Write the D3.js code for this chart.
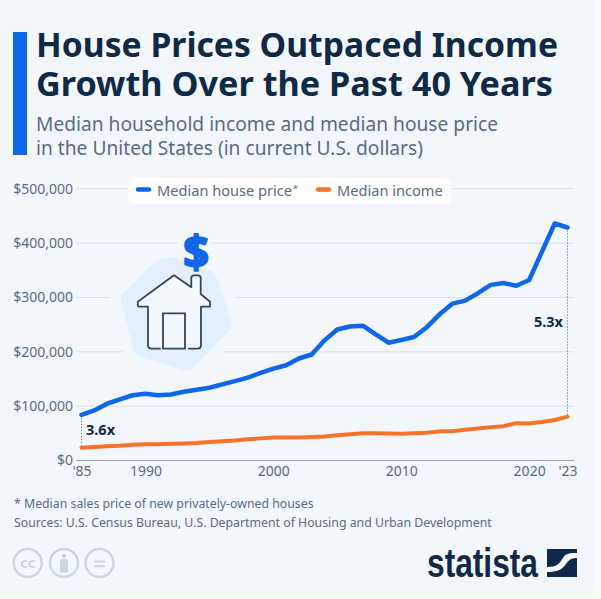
<!DOCTYPE html>
<html>
<head>
<meta charset="utf-8">
<script src="https://cdnjs.cloudflare.com/ajax/libs/d3/7.8.5/d3.min.js"></script>
<style>
  html, body { margin: 0; padding: 0; background: #f8fdf3; }
  svg { display: block; font-family: "Noto Sans", "Open Sans", sans-serif; }
  .axis path, .axis line { shape-rendering: crispEdges; }
</style>
</head>
<body>
<div id="chart"></div>
<script>
var years = [1985, 1986, 1987, 1988, 1989, 1990, 1991, 1992, 1993, 1994, 1995, 1996, 1997,
  1998, 1999, 2000, 2001, 2002, 2003, 2004, 2005, 2006, 2007, 2008, 2009, 2010, 2011, 2012,
  2013, 2014, 2015, 2016, 2017, 2018, 2019, 2020, 2021, 2022, 2023];
var housePrice = [84000, 92000, 104500, 112500, 120000, 122900, 120000, 121500, 126500, 130000,
  133900, 140000, 146000, 152500, 161000, 169000, 175200, 187600, 195000, 221000, 240900,
  246500, 247900, 232100, 216700, 221800, 227200, 245200, 268900, 288500, 294200, 307800,
  323100, 326400, 321500, 332000, 384000, 436000, 428600];
var income = [23600, 24900, 26100, 27200, 28900, 29900, 30100, 30600, 31200, 32300, 34100, 35500,
  37000, 38900, 40700, 42100, 42200, 42400, 43300, 44300, 46300, 48200, 50200, 50300, 49800,
  49300, 50100, 51000, 53600, 53700, 56500, 59000, 61400, 63200, 68700, 68000, 70800, 74600, 80600];
var yTicks = [0, 100000, 200000, 300000, 400000, 500000];
var xTicks = [1985, 1990, 2000, 2010, 2020, 2023];
var xTickLabels = ["'85", "1990", "2000", "2010", "2020", "'23"];

var bg = '#f3f7fc', navy = '#0f2a47', grey = '#5a6b7e', blue = '#0f66e8', orange = '#f8722a';

var svg = d3.select('#chart').append('svg').attr('width', 601).attr('height', 599);

svg.append('rect').attr('width', 595).attr('height', 595).attr('fill', bg);

// title block
svg.append('rect').attr('x', 13).attr('y', 32).attr('width', 14).attr('height', 123).attr('fill', blue);
[['House Prices Outpaced Income', 57, 522, 33.7], ['Growth Over the Past 40 Years', 96, 517, 34.2]].forEach(function (t) {
  svg.append('text').attr('x', 36).attr('y', t[1]).attr('fill', navy)
    .attr('textLength', t[2]).attr('lengthAdjust', 'spacingAndGlyphs')
    .style('font-size', t[3] + 'px').style('font-weight', 700).text(t[0]);
});
[['Median household income and median house price', 131], ['in the United States (in current U.S. dollars)', 155]].forEach(function (t) {
  svg.append('text').attr('x', 36).attr('y', t[1]).attr('fill', grey)
    .style('font-size', '19.2px').text(t[0]);
});

var x = d3.scaleLinear().domain([1985, 2023]).range([81.5, 567.5]);
var y = d3.scaleLinear().domain([0, 500000]).range([460.5, 188.7]);

// gridlines
var grid = svg.append('g');
yTicks.slice(1).forEach(function (v) {
  grid.append('line').attr('x1', 76).attr('x2', 574).attr('y1', y(v)).attr('y2', y(v))
    .attr('stroke', '#d9e0e7').attr('stroke-width', 1);
});

// y axis labels
var yAxis = d3.axisLeft(y).tickValues(yTicks).tickSize(0).tickPadding(0)
  .tickFormat(function (d) { return '$' + d3.format(',')(d); });
var yG = svg.append('g').attr('class', 'axis').attr('transform', 'translate(73,0)').call(yAxis);
yG.select('.domain').remove();
yG.selectAll('text').attr('fill', grey).style('font-size', '14px').style('font-family', '"Noto Sans", sans-serif');

// x axis
var xAxis = d3.axisBottom(x).tickValues(xTicks).tickSize(0).tickPadding(6)
  .tickFormat(function (d, i) { return xTickLabels[i]; });
var xG = svg.append('g').attr('class', 'axis').attr('transform', 'translate(0,' + y(0) + ')').call(xAxis);
xG.select('.domain').remove();
xG.selectAll('text').attr('fill', grey).style('font-size', '14px').style('font-family', '"Noto Sans", sans-serif');
svg.append('line').attr('x1', 76).attr('x2', 574).attr('y1', y(0)).attr('y2', y(0))
  .attr('stroke', '#9aa6b2').attr('stroke-width', 1);

// house icon, with a halo that breaks the gridlines
var blob = 'M163,258 Q170,256 178,259 L209,270 Q215,272 217,278 L231,320 Q233,326 229,331 L193,368 Q188,372 182,370 L140,356 Q134,354 133,348 L121,303 Q120,297 124,293 L155,262 Q159,259 163,258 Z';
var houseOutline = 'M160,348.7 H151.5 Q148,348.7 148,345 V306.7 H139.5 Q137.8,306.7 137.8,305 V301.7 L174,275.3 L191.3,287.3 V278 Q191.3,275.3 194,275.3 H198 Q200.7,275.3 200.7,278 V294 L210,301.7 V306.7 H201 V345 Q201,348.7 197.5,348.7 H189';
svg.append('path').attr('d', blob).attr('fill', bg).attr('stroke', bg).attr('stroke-width', 22).attr('stroke-linejoin', 'round');
svg.append('text').attr('x', 196).attr('y', 268).attr('text-anchor', 'middle').attr('fill', bg)
  .attr('stroke', bg).attr('stroke-width', 14).style('font-size', '45px').style('font-weight', 700).text('$');
svg.append('path').attr('d', blob).attr('fill', '#e4effc');
svg.append('path').attr('d', houseOutline + ' L185,348.7 H163 L160,348.7 Z').attr('fill', '#f3f8fd');
svg.append('text').attr('x', 196).attr('y', 268).attr('text-anchor', 'middle').attr('fill', blue)
  .attr('stroke', blue).attr('stroke-width', 2.2).attr('stroke-linejoin', 'round').style('font-size', '45px').style('font-weight', 700).text('$');
svg.append('path')
  .attr('d', houseOutline)
  .attr('fill', 'none').attr('stroke', '#34465a').attr('stroke-width', 1.8).attr('stroke-linejoin', 'round').attr('stroke-linecap', 'round');
svg.append('path').attr('d', 'M163,348.7 V313.3 H185 V348.7 Z')
  .attr('fill', 'none').attr('stroke', '#34465a').attr('stroke-width', 1.8);

// dotted connectors
function connector(i) {
  svg.append('line').attr('x1', x(years[i])).attr('x2', x(years[i]))
    .attr('y1', y(housePrice[i])).attr('y2', y(income[i]))
    .attr('stroke', '#4a5a6c').attr('stroke-width', 1).attr('stroke-dasharray', '1 2');
}
connector(0);
connector(years.length - 1);

// lines
function drawLine(values, color, w) {
  var line = d3.line().x(function (d, i) { return x(years[i]); }).y(function (d) { return y(d); });
  svg.append('path').datum(values).attr('fill', 'none').attr('stroke', color)
    .attr('stroke-width', w).attr('stroke-linejoin', 'round').attr('stroke-linecap', 'round').attr('d', line);
}
drawLine(income, orange, 4);
drawLine(housePrice, blue, 4.5);

svg.append('text').attr('x', 86).attr('y', 435).attr('fill', navy).style('font-size', '14.5px').style('font-weight', 700).text('3.6x');
svg.append('text').attr('x', 563).attr('y', 327).attr('text-anchor', 'end').attr('fill', navy).style('font-size', '14.5px').style('font-weight', 700).text('5.3x');

// legend
svg.append('rect').attr('x', 128).attr('y', 178).attr('width', 323).attr('height', 26).attr('rx', 6).attr('fill', '#fff');
svg.append('line').attr('x1', 138).attr('x2', 149).attr('y1', 189.5).attr('y2', 189.5).attr('stroke', blue).attr('stroke-width', 4.5).attr('stroke-linecap', 'round');
svg.append('text').attr('x', 157).attr('y', 196).attr('fill', grey).style('font-size', '14.6px').text('Median house price');
svg.append('text').attr('x', 293).attr('y', 192).attr('fill', grey).style('font-size', '9px').text('*');
svg.append('line').attr('x1', 318).attr('x2', 329).attr('y1', 189.5).attr('y2', 189.5).attr('stroke', orange).attr('stroke-width', 4.5).attr('stroke-linecap', 'round');
svg.append('text').attr('x', 337).attr('y', 196).attr('fill', grey).style('font-size', '14.6px').text('Median income');

// footer
svg.append('text').attr('x', 14).attr('y', 508).attr('fill', grey).style('font-size', '12.3px').text('* Median sales price of new privately-owned houses');
svg.append('text').attr('x', 14).attr('y', 527).attr('fill', grey).style('font-size', '12.3px').text('Sources: U.S. Census Bureau, U.S. Department of Housing and Urban Development');

// licence icons
var iconGrey = '#cdd6dd';
[27.7, 64, 99.5].forEach(function (cx) {
  svg.append('circle').attr('cx', cx).attr('cy', 563).attr('r', 14).attr('fill', 'none').attr('stroke', iconGrey).attr('stroke-width', 2.5);
});
svg.append('text').attr('x', 27.7).attr('y', 568).attr('text-anchor', 'middle').attr('fill', iconGrey).style('font-size', '15px').style('font-weight', 700).text('cc');
svg.append('circle').attr('cx', 64).attr('cy', 556).attr('r', 2.2).attr('fill', iconGrey);
svg.append('rect').attr('x', 60).attr('y', 559).attr('width', 8).attr('height', 13.5).attr('rx', 1.5).attr('fill', iconGrey);
svg.append('rect').attr('x', 94).attr('y', 560.5).attr('width', 11).attr('height', 2.2).attr('fill', iconGrey);
svg.append('rect').attr('x', 94).attr('y', 565).attr('width', 11).attr('height', 2.2).attr('fill', iconGrey);

// statista logo
svg.append('text').attr('x', 427).attr('y', 576.5).attr('fill', navy)
  .attr('textLength', 111).attr('lengthAdjust', 'spacingAndGlyphs')
  .style('font-family', '"Liberation Sans Narrow", "Liberation Sans", sans-serif')
  .style('font-size', '41px').style('font-weight', 700).text('statista');
svg.append('rect').attr('x', 547).attr('y', 549).attr('width', 30).attr('height', 28).attr('fill', navy);
svg.append('path').attr('d', 'M547,567 C557,567 559,564 563,558 C566,553 570,553 577,553 V558 C571,558 569,560 566,564 C562,570 557,572 547,572 Z').attr('fill', bg);
</script>
</body>
</html>
